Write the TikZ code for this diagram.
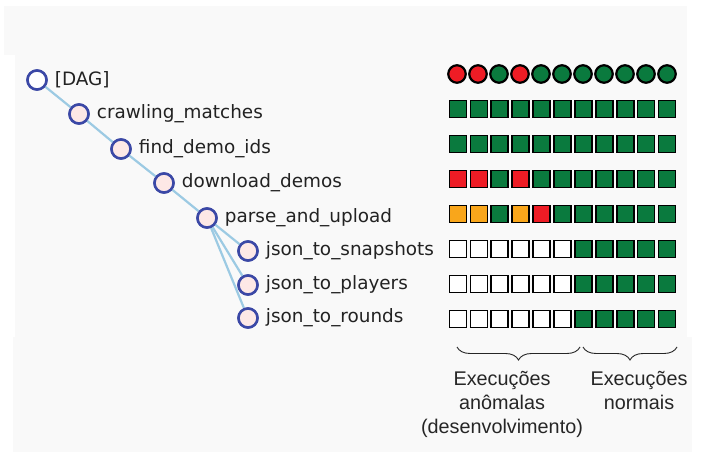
\documentclass[tikz,border=0pt]{standalone}
\usepackage{fontspec}
\setmainfont{DejaVu Sans}
\newfontfamily\labfont{Liberation Sans}
\usetikzlibrary{decorations.pathreplacing}
\definecolor{bgpanel}{HTML}{F9F9F9}
\definecolor{gOK}{HTML}{0A7A3E}
\definecolor{rFail}{HTML}{EE1C25}
\definecolor{oRetry}{HTML}{F9A61B}
\definecolor{tBorder}{HTML}{3B48A6}
\definecolor{tFill}{HTML}{FDE8E6}
\definecolor{tEdge}{HTML}{9CCAE3}
\definecolor{tText}{HTML}{222222}
\tikzset{
  tnode/.style={circle, draw=tBorder, line width=2.5pt, fill=tFill, minimum size=19pt, inner sep=0pt},
  tlabel/.style={anchor=west, text=tText, font=\fontsize{18.4}{20}\selectfont, inner sep=0pt},
  tedge/.style={draw=tEdge, line width=2.2pt},
  runc/.style={circle, draw=black, line width=2.2pt, minimum size=17.5pt, inner sep=0pt},
  cell/.style={rectangle, draw=black, line width=1.7pt, minimum size=17pt, inner sep=0pt},
  bracestyle/.style={decorate, decoration={brace, mirror, amplitude=13pt}, draw=black!85, line width=0.9pt},
  note/.style={align=center, font=\labfont\fontsize{19.8}{24}\selectfont, text=black!85, inner sep=0pt, anchor=north}
}
\begin{document}
\begin{tikzpicture}[x=1pt,y=-1pt]
\useasboundingbox (0,0) rectangle (704,452);
\fill[white] (0,0) rectangle (704,452);
\fill[bgpanel] (4,6) rectangle (687,55);
\fill[bgpanel] (15,55) rectangle (687,337);
\fill[bgpanel] (13,337) rectangle (692,452);

% tree
\node[tnode, fill=white] (c0) at (37,80) {};
\node[tnode] (c1) at (79,114) {};
\node[tnode] (c2) at (121,149) {};
\node[tnode] (c3) at (164,183) {};
\node[tnode] (c4) at (207,218) {};
\node[tnode] (c5) at (248,251) {};
\node[tnode] (c6) at (248,285) {};
\node[tnode] (c7) at (248,318) {};
\path[tedge] (c0) -- (c1);
\path[tedge] (c1) -- (c2);
\path[tedge] (c2) -- (c3);
\path[tedge] (c3) -- (c4);
\path[tedge] (c4) -- (c5);
\path[tedge] (c4) -- (c6);
\path[tedge] (c4) -- (c7);
% redraw nodes on top of edges
\node[tnode, fill=white] at (c0) {};
\foreach \n in {c1,c2,c3,c4,c5,c6,c7} \node[tnode] at (\n) {};

\node[tlabel] (l0) at ([xshift=7pt]c0.east) {[DAG]};
\node[tlabel] (l1) at ([xshift=7pt]c1.east) {crawling\_matches};
\node[tlabel] (l2) at ([xshift=7pt]c2.east) {find\_demo\_ids};
\node[tlabel] (l3) at ([xshift=7pt]c3.east) {download\_demos};
\node[tlabel] (l4) at ([xshift=7pt]c4.east) {parse\_and\_upload};
\node[tlabel] (l5) at ([xshift=7pt]c5.east) {json\_to\_snapshots};
\node[tlabel] (l6) at ([xshift=7pt]c6.east) {json\_to\_players};
\node[tlabel] (l7) at ([xshift=7pt]c7.east) {json\_to\_rounds};

% run circles
\foreach \col [count=\i from 0] in {rFail,rFail,gOK,rFail,gOK,gOK,gOK,gOK,gOK,gOK,gOK}
  \node[runc, fill=\col] (run\i) at ({457+21*\i},74) {};

% task cells
\foreach \col [count=\i from 0] in {gOK,gOK,gOK,gOK,gOK,gOK,gOK,gOK,gOK,gOK,gOK}
  \node[cell, fill=\col] (ta\i) at ({458+20.9*\i},109) {};
\foreach \col [count=\i from 0] in {gOK,gOK,gOK,gOK,gOK,gOK,gOK,gOK,gOK,gOK,gOK}
  \node[cell, fill=\col] (tb\i) at ({458+20.9*\i},144) {};
\foreach \col [count=\i from 0] in {rFail,rFail,gOK,rFail,gOK,gOK,gOK,gOK,gOK,gOK,gOK}
  \node[cell, fill=\col] (tc\i) at ({458+20.9*\i},179) {};
\foreach \col [count=\i from 0] in {oRetry,oRetry,gOK,oRetry,rFail,gOK,gOK,gOK,gOK,gOK,gOK}
  \node[cell, fill=\col] (td\i) at ({458+20.9*\i},214) {};
\foreach \col [count=\i from 0] in {white,white,white,white,white,white,gOK,gOK,gOK,gOK,gOK}
  \node[cell, fill=\col] (te\i) at ({458+20.9*\i},249) {};
\foreach \col [count=\i from 0] in {white,white,white,white,white,white,gOK,gOK,gOK,gOK,gOK}
  \node[cell, fill=\col] (tf\i) at ({458+20.9*\i},284) {};
\foreach \col [count=\i from 0] in {white,white,white,white,white,white,gOK,gOK,gOK,gOK,gOK}
  \node[cell, fill=\col] (tg\i) at ({458+20.9*\i},319) {};

% braces
\coordinate (b1s) at (457,347);
\coordinate (b1e) at (580,347);
\coordinate (b2s) at (583,347);
\coordinate (b2e) at (677,347);
\draw[bracestyle] (b1s) -- (b1e);
\draw[bracestyle] (b2s) -- (b2e);
\node[note] (n1) at (502,371) {Execuções\\anômalas\\(desenvolvimento)};
\node[note] (n2) at (639,371) {Execuções\\normais};
\end{tikzpicture}
\end{document}
